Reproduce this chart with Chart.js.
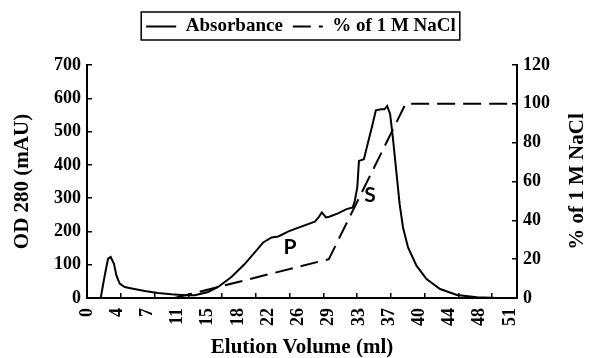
<!DOCTYPE html>
<html>
<head>
<meta charset="utf-8">
<script src="https://cdn.jsdelivr.net/npm/chart.js@4.4.1/dist/chart.umd.min.js"></script>
<style>
    body { margin: 0; background: #fff; }
</style>
</head>
<body>
<canvas id="elution_chart" width="593" height="358"></canvas>
<script>
'use strict'
// Absorbance trace (ml, mAU)
let absVolume = [1.66, 2.15, 2.55, 2.87, 3.27, 3.56, 3.96, 4.57, 5.58, 7.0, 8.6, 10.2, 11.85, 13.06,
    14.67, 15.88, 17.5, 19.1, 20.33, 21.35, 22.37, 23.18, 24.41, 26.04, 27.6, 28.1, 28.45, 28.95,
    29.35, 30.4, 31.45, 32.2, 32.45, 32.75, 32.95, 33.55, 33.9, 34.55, 35.0, 35.63, 36.04, 36.37,
    36.73, 37.06, 37.47, 37.88, 38.29, 38.9, 39.92, 41.14, 42.78, 44.82, 47.27, 49.71, 51.76];
let absValue = [0, 68, 118, 123, 103, 68, 43, 33, 28, 21, 15, 11, 8, 8,
    18, 33, 63, 102, 137, 167, 182, 185, 200, 215, 229, 244, 257, 242,
    244, 254, 267, 272, 292, 332, 412, 417, 452, 517, 564, 567, 567, 577,
    552, 482, 382, 282, 212, 152, 97, 57, 27, 9, 2, 0, 0];
// NaCl gradient (ml, % of 1 M NaCl)
let naclVolume = [10.6, 29.3, 38.6, 52.0];
let naclPercent = [0, 20, 100, 100];
// x axis: where the labels sit and what they say
let volumeTickPos = [0, 3.66, 7.32, 10.98, 14.64, 18.3, 21.96, 25.62, 29.28, 32.94, 36.6, 40.26, 43.92, 47.58, 51.24];
let volumeTickLabels = ['0', '4', '7', '11', '15', '18', '22', '26', '29', '33', '37', '40', '44', '48', '51'];
let volumeTickMarks = [4.09, 8.18, 12.27, 16.36, 20.45, 24.54, 28.63, 32.72, 36.81, 40.9, 44.99, 49.08];
// peak letters
let peakText = ['P', 'S'];
let peakVolume = [24.6, 34.3];
let peakOD = [153, 308];

let serif = '"Liberation Serif", "Times New Roman", serif';
let tickFont = { family: serif, size: 18, weight: 'bold' };
let titleFont = { family: serif, size: 21, weight: 'bold' };

let chartDecor = {
    id: 'chartDecor',
    afterDraw: function (chart) {
        let ctx = chart.ctx;
        let area = chart.chartArea;
        // frame round the legend
        let hb = chart.legend.legendHitBoxes;
        if (hb && hb.length) {
            let l = Math.min.apply(null, hb.map(b => b.left));
            let r = Math.max.apply(null, hb.map(b => b.left + b.width));
            let t = Math.min.apply(null, hb.map(b => b.top));
            let b = Math.max.apply(null, hb.map(b => b.top + b.height));
            ctx.save();
            ctx.strokeStyle = '#000';
            ctx.lineWidth = 1.5;
            ctx.strokeRect(l - 5, t - 5, r - l + 9, b - t + 9);
            ctx.restore();
        }
        // right axis title, reads bottom to top like the left one
        ctx.save();
        ctx.fillStyle = '#000';
        ctx.font = 'bold 21px ' + serif;
        ctx.textAlign = 'center';
        ctx.textBaseline = 'middle';
        ctx.translate(578, (area.top + area.bottom) / 2);
        ctx.rotate(-Math.PI / 2);
        ctx.fillText('% of 1 M NaCl', 0, 0);
        ctx.restore();
        // P and S
        ctx.save();
        ctx.fillStyle = '#000';
        ctx.font = 'bold 21px Lato, "Open Sans", sans-serif';
        ctx.textAlign = 'center';
        ctx.textBaseline = 'middle';
        peakText.forEach(function (txt, i) {
            let px = chart.scales.x.getPixelForValue(peakVolume[i]);
            let py = chart.scales.y.getPixelForValue(peakOD[i]);
            ctx.fillText(txt, px, py);
        });
        ctx.restore();
    },
};

let chart = new Chart('elution_chart', {
    type: 'line',
    data: {
        datasets: [
            {
                label: 'Absorbance',
                data: absVolume.map((v, i) => ({ x: v, y: absValue[i] })),
                borderColor: '#000',
                backgroundColor: '#000',
                borderWidth: 2,
                pointRadius: 0,
                tension: 0,
                xAxisID: 'x',
                yAxisID: 'y',
            },
            {
                label: '% of 1 M NaCl',
                data: naclVolume.map((v, i) => ({ x: v, y: naclPercent[i] })),
                borderColor: '#000',
                backgroundColor: '#000',
                borderWidth: 2,
                borderDash: [18, 8],
                pointRadius: 0,
                tension: 0,
                xAxisID: 'x',
                yAxisID: 'y2',
            },
        ],
    },
    options: {
        responsive: false,
        animation: false,
        layout: { padding: { top: 7, left: 9, right: 0, bottom: 0 } },
        plugins: {
            legend: {
                position: 'top',
                labels: {
                    usePointStyle: true,
                    pointStyle: 'line',
                    pointStyleWidth: 30,
                    boxHeight: 2,
                    padding: 10,
                    color: '#000',
                    font: { family: serif, size: 19, weight: 'bold' },
                    generateLabels: function (chart) {
                        let items = Chart.defaults.plugins.legend.labels.generateLabels(chart);
                        items.forEach(function (item, i) {
                            // point style drops the dataset dash, put it back
                            item.lineDash = chart.data.datasets[i].borderDash || [];
                            item.lineWidth = 2;
                            item.strokeStyle = '#000';
                        });
                        return items;
                    },
                },
            },
            // empty title, sits under the legend as a gap above the plot
            title: {
                display: true,
                text: '',
                position: 'top',
                weight: 500,
                font: { size: 10 },
                padding: { top: 3, bottom: 4 },
            },
            tooltip: { enabled: false },
        },
        scales: {
            x: {
                type: 'linear',
                position: 'bottom',
                weight: 10,
                min: 0,
                max: 52.1,
                afterBuildTicks: function (s) {
                    s.ticks = volumeTickPos.map(v => ({ value: v }));
                },
                afterFit: function (s) { s.height = 60; },
                ticks: {
                    autoSkip: false,
                    minRotation: 90,
                    maxRotation: 90,
                    padding: 10,
                    color: '#000',
                    font: tickFont,
                    callback: function (value, index) { return volumeTickLabels[index]; },
                },
                grid: { display: false, drawTicks: false },
                border: { display: true, color: '#000', width: 2 },
                title: {
                    display: true,
                    text: 'Elution Volume (ml)',
                    color: '#000',
                    font: titleFont,
                    padding: { top: 0, bottom: -2 },
                },
            },
            // only carries the small tick marks on the bottom axis
            xt: {
                type: 'linear',
                position: 'bottom',
                weight: -10,
                min: 0,
                max: 52.1,
                afterBuildTicks: function (s) {
                    s.ticks = volumeTickMarks.map(v => ({ value: v }));
                },
                afterFit: function (s) { s.height = 0; },
                ticks: { display: false },
                grid: { drawOnChartArea: false, tickLength: -5, color: '#000', lineWidth: 1.5 },
                border: { display: false },
            },
            y: {
                position: 'left',
                min: 0,
                max: 700,
                afterFit: function (s) { s.width = 78; },
                ticks: { stepSize: 100, padding: 11, color: '#000', font: tickFont },
                grid: { drawOnChartArea: false, tickLength: -5, color: '#000', lineWidth: 1.5 },
                border: { display: true, color: '#000', width: 2 },
                title: {
                    display: true,
                    text: 'OD 280 (mAU)',
                    color: '#000',
                    font: titleFont,
                    padding: { top: 1, bottom: 0 },
                },
            },
            y2: {
                position: 'right',
                min: 0,
                max: 120,
                afterFit: function (s) { s.width = 76; },
                ticks: { stepSize: 20, padding: 11, color: '#000', font: tickFont },
                grid: { drawOnChartArea: false, tickLength: -5, color: '#000', lineWidth: 1.5 },
                border: { display: true, color: '#000', width: 2 },
            },
        },
    },
    plugins: [chartDecor],
});
</script>
</body>
</html>
